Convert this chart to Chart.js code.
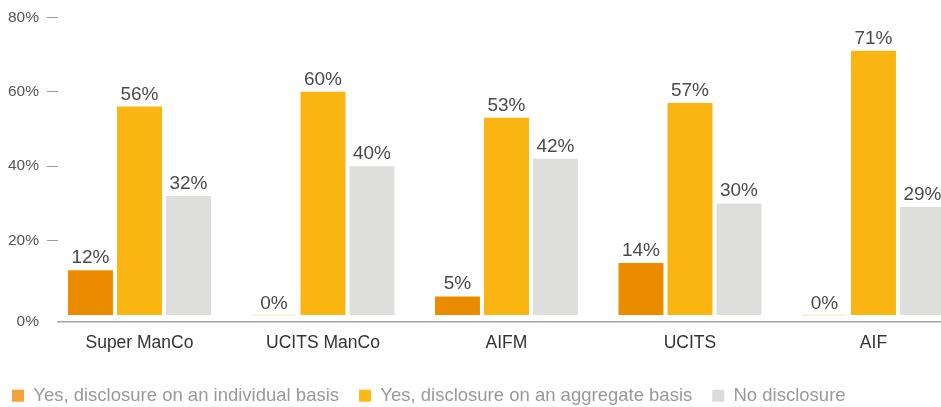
<!DOCTYPE html>
<html>
<head>
<meta charset="utf-8">
<script src="https://cdn.jsdelivr.net/npm/chart.js@4.4.1/dist/chart.umd.min.js"></script>
<style>
  html, body { margin: 0; padding: 0; background: #fff; overflow: hidden; }
  #wrap { position: relative; width: 941px; height: 407px; }
</style>
</head>
<body>
<div id="wrap"><canvas id="chart"></canvas></div>
<script>
// data
const categories = ['Super ManCo', 'UCITS ManCo', 'AIFM', 'UCITS', 'AIF'];
const seriesNames = ['Yes, disclosure on an individual basis', 'Yes, disclosure on an aggregate basis', 'No disclosure'];
const individual = [12, 0, 5, 14, 0];
const aggregate = [56, 60, 53, 57, 71];
const noDisclosure = [32, 40, 42, 30, 29];
const yTicks = [0, 20, 40, 60, 80];

// styles
const barColors = ['#EB8C00', '#FAB512', '#DEDEDD'];
const legendColors = ['#F8A13C', '#FCB814', '#DCDCDC'];
const zeroColor = '#FCE4BD';
const FONT = '"Liberation Sans", Arial, Helvetica, sans-serif';

// axis windows (the picture is cropped on the right)
const X_MIN = -0.444, X_MAX = 4.368, Y_MIN = -1.74, Y_MAX = 80;

Chart.defaults.font.family = FONT;

const valueLabels = {
    id: 'valueLabels',
    afterDatasetsDraw(chart) {
        const ctx = chart.ctx;
        ctx.save();
        ctx.font = '19px ' + FONT;
        ctx.fillStyle = '#4a4a4a';
        ctx.textAlign = 'center';
        ctx.textBaseline = 'alphabetic';
        chart.data.datasets.forEach((ds, k) => {
            chart.getDatasetMeta(k).data.forEach((bar, i) => {
                ctx.fillText(ds.data[i].y + '%', bar.x, bar.y - 7);
            });
        });
        ctx.restore();
    }
};

new Chart(document.getElementById('chart'), {
    type: 'bar',
    data: {
        datasets: [individual, aggregate, noDisclosure].map((vals, k) => ({
            label: seriesNames[k],
            data: vals.map((v, i) => ({ x: i, y: v })),
            backgroundColor: ctx => (ctx.raw && ctx.raw.y === 0 ? zeroColor : barColors[k]),
            borderWidth: 0,
            minBarLength: 1,
            categoryPercentage: 0.801,
            barPercentage: 0.918
        }))
    },
    options: {
        responsive: true,
        maintainAspectRatio: false,
        animation: false,
        layout: { padding: { left: -8, top: 15, right: 0, bottom: -8 } },
        plugins: {
            tooltip: { enabled: false },
            legend: {
                position: 'bottom',
                align: 'start',
                labels: {
                    boxWidth: 12,
                    boxHeight: 12,
                    padding: 20,
                    color: '#999',
                    font: { size: 18.5 },
                    generateLabels: () => seriesNames.map((n, k) => ({
                        text: n,
                        fillStyle: legendColors[k],
                        strokeStyle: legendColors[k],
                        lineWidth: 0,
                        hidden: false,
                        datasetIndex: k,
                        fontColor: '#999'
                    }))
                }
            }
        },
        scales: {
            x: {
                type: 'linear',
                offset: false,
                min: X_MIN,
                max: X_MAX,
                afterBuildTicks: s => { s.ticks = categories.map((c, i) => ({ value: i })); },
                afterFit: s => { s.height = 45; },
                grid: { display: false, drawTicks: false, offset: false },
                border: { display: true, color: '#a3a3a3', width: 1.5 },
                ticks: {
                    autoSkip: false,
                    maxRotation: 0,
                    padding: 11,
                    color: '#333',
                    font: { size: 17.5 },
                    callback: v => categories[v] ?? ''
                }
            },
            y: {
                min: Y_MIN,
                max: Y_MAX,
                afterBuildTicks: s => { s.ticks = yTicks.map(v => ({ value: v === 0 ? Y_MIN : v })); },
                afterFit: s => { s.width = 66; },
                grid: {
                    drawOnChartArea: false,
                    drawTicks: true,
                    tickLength: 11,
                    lineWidth: 1,
                    color: ctx => (ctx.tick && ctx.tick.value > 0 ? '#9a9a9a' : 'rgba(0,0,0,0)')
                },
                border: { display: false },
                ticks: {
                    padding: 8,
                    color: '#555',
                    font: { size: 15.5 },
                    callback: v => Math.max(0, Math.round(v)) + '%'
                }
            }
        }
    },
    plugins: [valueLabels]
});
</script>
</body>
</html>
